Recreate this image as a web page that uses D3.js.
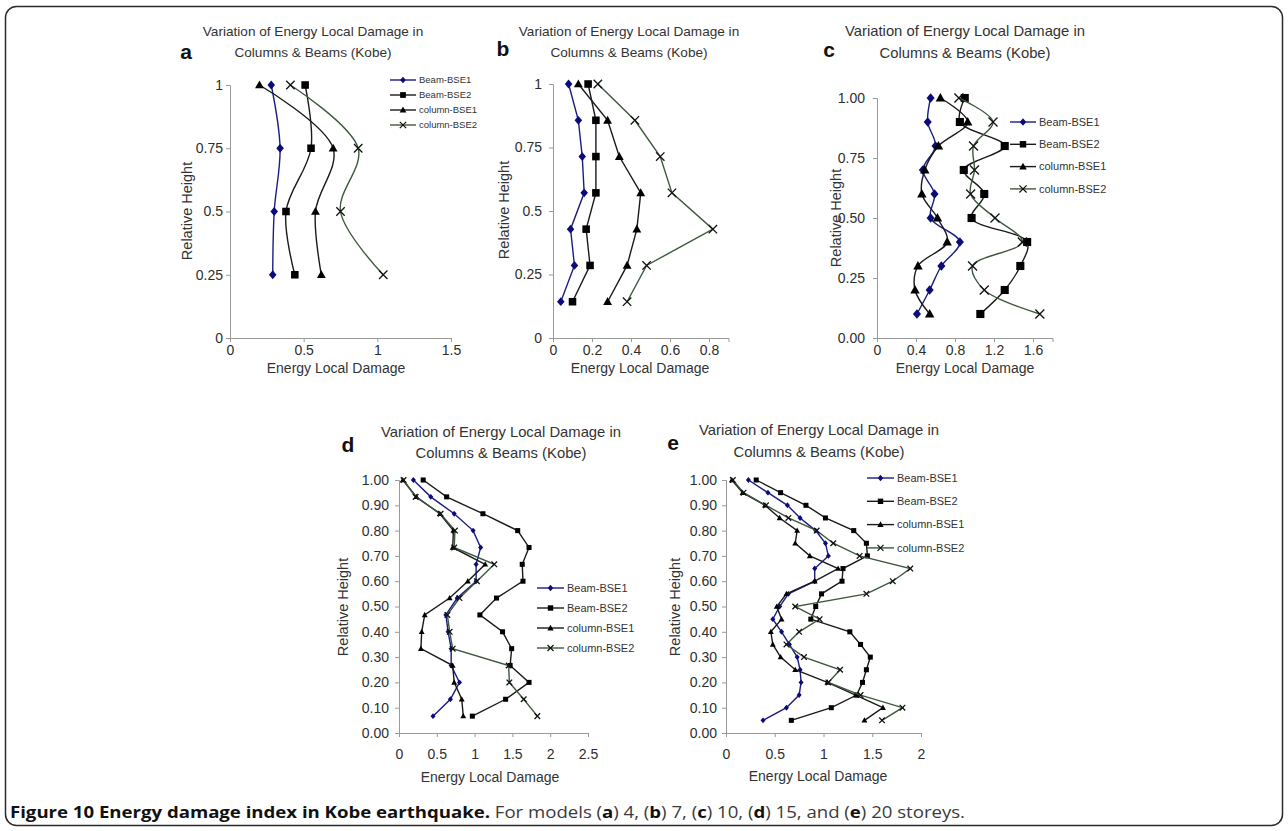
<!DOCTYPE html>
<html>
<head>
<meta charset="utf-8">
<script src="https://cdn.jsdelivr.net/npm/d3@7"></script>
<style>
  body { margin: 0; background: #fff; }
  svg { display: block; font-family: "Liberation Sans", Arial, sans-serif; }
</style>
</head>
<body>
<svg id="figure" width="1288" height="831"></svg>
<script>
// ---------------- data ----------------
// storey levels, top to bottom (relative height = storey / number of storeys)
const storeysA = [4, 3, 2, 1];
const storeysB = [7, 6, 5, 4, 3, 2, 1];
const storeysC = [10, 9, 8, 7, 6, 5, 4, 3, 2, 1];
const storeysD = [15, 14, 13, 12, 11, 10, 9, 8, 7, 6, 5, 4, 3, 2, 1];
const storeysE = [20, 19, 18, 17, 16, 15, 14, 13, 12, 11, 10, 9, 8, 7, 6, 5, 4, 3, 2, 1];

const seriesNames = ["Beam-BSE1", "Beam-BSE2", "column-BSE1", "column-BSE2"];

// (a) 4 storeys
const aBeamBSE1 = [0.28, 0.34, 0.30, 0.29];
const aBeamBSE2 = [0.51, 0.55, 0.38, 0.44];
const aColumnBSE1 = [0.20, 0.70, 0.58, 0.62];
const aColumnBSE2 = [0.41, 0.87, 0.75, 1.04];

// (b) 7 storeys
const bBeamBSE1 = [0.08, 0.13, 0.15, 0.16, 0.09, 0.11, 0.04];
const bBeamBSE2 = [0.18, 0.22, 0.22, 0.22, 0.17, 0.19, 0.10];
const bColumnBSE1 = [0.13, 0.28, 0.34, 0.45, 0.43, 0.38, 0.28];
const bColumnBSE2 = [0.23, 0.42, 0.55, 0.61, 0.82, 0.48, 0.38];

// (c) 10 storeys
const cBeamBSE1 = [0.55, 0.52, 0.60, 0.47, 0.59, 0.55, 0.85, 0.66, 0.54, 0.41];
const cBeamBSE2 = [0.90, 0.85, 1.31, 0.89, 1.10, 0.97, 1.54, 1.47, 1.31, 1.06];
const cColumnBSE1 = [0.65, 0.93, 0.63, 0.49, 0.46, 0.62, 0.72, 0.42, 0.39, 0.54];
const cColumnBSE2 = [0.84, 1.19, 0.99, 1.00, 0.96, 1.21, 1.49, 0.98, 1.10, 1.67];

// (d) 15 storeys
const dBeamBSE1 = [0.19, 0.42, 0.73, 0.98, 1.08, 1.02, 1.02, 0.77, 0.62, 0.65, 0.69, 0.69, 0.80, 0.68, 0.45];
const dBeamBSE2 = [0.32, 0.63, 1.11, 1.57, 1.72, 1.63, 1.64, 1.29, 1.07, 1.37, 1.49, 1.47, 1.72, 1.41, 0.97];
const dColumnBSE1 = [0.05, 0.23, 0.54, 0.72, 0.71, 1.14, 0.91, 0.67, 0.34, 0.30, 0.29, 0.71, 0.73, 0.83, 0.85];
const dColumnBSE2 = [0.06, 0.22, 0.55, 0.74, 0.73, 1.26, 1.03, 0.80, 0.64, 0.67, 0.71, 1.45, 1.46, 1.65, 1.83];

// (e) 20 storeys
const eBeamBSE1 = [0.23, 0.43, 0.63, 0.76, 0.92, 1.02, 1.05, 0.91, 0.91, 0.64, 0.55, 0.48, 0.57, 0.65, 0.73, 0.76, 0.77, 0.75, 0.62, 0.38];
const eBeamBSE2 = [0.31, 0.56, 0.82, 1.02, 1.31, 1.44, 1.45, 1.20, 1.19, 0.98, 0.92, 0.87, 1.27, 1.38, 1.48, 1.44, 1.40, 1.34, 1.08, 0.67];
const eColumnBSE1 = [0.06, 0.17, 0.40, 0.55, 0.73, 0.71, 0.86, 1.15, 0.91, 0.62, 0.52, 0.57, 0.46, 0.48, 0.56, 0.71, 1.04, 1.33, 1.61, 1.42];
const eColumnBSE2 = [0.07, 0.18, 0.41, 0.64, 0.93, 1.10, 1.37, 1.89, 1.71, 1.44, 0.71, 0.96, 0.75, 0.62, 0.80, 1.17, 1.05, 1.38, 1.81, 1.60];

// tick labels
const yTicksQuarter = [0, 0.25, 0.5, 0.75, 1];
const yTicksTenth = [0, 0.1, 0.2, 0.3, 0.4, 0.5, 0.6, 0.7, 0.8, 0.9, 1];
const xTicksA = [0, 0.5, 1, 1.5];
const xTicksB = [0, 0.2, 0.4, 0.6, 0.8];
const xTicksC = [0, 0.4, 0.8, 1.2, 1.6];
const xTicksD = [0, 0.5, 1, 1.5, 2, 2.5];
const xTicksE = [0, 0.5, 1, 1.5, 2];

// ---------------- drawing ----------------
const svg = d3.select("#figure");

// rounded frame around the figure
svg.append("rect")
    .attr("x", 5.5).attr("y", 6.5)
    .attr("width", 1277).attr("height", 819)
    .attr("rx", 11)
    .attr("fill", "none")
    .attr("stroke", "#2b2b2b")
    .attr("stroke-width", 1.5);

const styles = [
    { kind: "diamond", line: "#1c1c82", fill: "#0b0b7a", stroke: "none" },
    { kind: "square", line: "#1a1a1a", fill: "#000", stroke: "none" },
    { kind: "triangle", line: "#1a1a1a", fill: "#000", stroke: "none" },
    { kind: "cross", line: "#3d593d", fill: "none", stroke: "#111" }
];

function markerPath(kind, s) {
    if (kind === "diamond") return `M0,${-s * 1.05}L${s * 0.9},0L0,${s * 1.05}L${-s * 0.9},0Z`;
    if (kind === "square") return `M${-s * 0.9},${-s * 0.9}H${s * 0.9}V${s * 0.9}H${-s * 0.9}Z`;
    if (kind === "triangle") return `M0,${-s * 1.1}L${s * 1.05},${s * 0.8}L${-s * 1.05},${s * 0.8}Z`;
    return `M${-s},${-s}L${s},${s}M${-s},${s}L${s},${-s}`;
}

const panels = [
    {
        letter: "a", letterPos: [186, 52],
        storeys: storeysA, series: [aBeamBSE1, aBeamBSE2, aColumnBSE1, aColumnBSE2],
        box: { left: 230, right: 451, top: 85, bottom: 338 }, xMax: 1.5,
        xTicks: xTicksA, xFmt: d3.format(""), yTicks: yTicksQuarter, yFmt: d3.format(""),
        xPad: 3, yPad: 3, smooth: true, marker: 4.2,
        title: { x: 313, y1: 31, y2: 52, size: 13.6 },
        yLabel: [187, 211], xLabel: [336, 368],
        legend: { x: 390, y: 80, dy: 15, len: 26, size: 9.5, marker: 3.2 }
    },
    {
        letter: "b", letterPos: [503, 49],
        storeys: storeysB, series: [bBeamBSE1, bBeamBSE2, bColumnBSE1, bColumnBSE2],
        box: { left: 553, right: 728.5, top: 84, bottom: 338 }, xMax: 0.9,
        xTicks: xTicksB, xFmt: d3.format(""), yTicks: yTicksQuarter, yFmt: d3.format(""),
        xPad: 3, yPad: 7, smooth: false, marker: 4.2,
        title: { x: 629, y1: 31, y2: 52, size: 13.6 },
        yLabel: [504, 210], xLabel: [640, 368],
        legend: null
    },
    {
        letter: "c", letterPos: [829, 50],
        storeys: storeysC, series: [cBeamBSE1, cBeamBSE2, cColumnBSE1, cColumnBSE2],
        box: { left: 877, right: 1052.5, top: 98, bottom: 338 }, xMax: 1.8,
        xTicks: xTicksC, xFmt: d3.format(""), yTicks: yTicksQuarter, yFmt: d3.format(".2f"),
        xPad: 3, yPad: 8, smooth: true, marker: 4.5,
        title: { x: 965, y1: 31, y2: 53, size: 14.8 },
        yLabel: [836, 218], xLabel: [965, 368],
        legend: { x: 1010, y: 122, dy: 22.3, len: 26, size: 11, marker: 3.6 }
    },
    {
        letter: "d", letterPos: [348, 445],
        storeys: storeysD, series: [dBeamBSE1, dBeamBSE2, dColumnBSE1, dColumnBSE2],
        box: { left: 399, right: 588, top: 480, bottom: 733 }, xMax: 2.5,
        xTicks: xTicksD, xFmt: d3.format(""), yTicks: yTicksTenth, yFmt: d3.format(".2f"),
        xPad: 12, yPad: 6, smooth: false, marker: 2.8,
        title: { x: 501, y1: 432, y2: 453, size: 14.8 },
        yLabel: [343, 607], xLabel: [490, 777],
        legend: { x: 537, y: 588, dy: 20, len: 27, size: 11, marker: 3 }
    },
    {
        letter: "e", letterPos: [673, 443],
        storeys: storeysE, series: [eBeamBSE1, eBeamBSE2, eColumnBSE1, eColumnBSE2],
        box: { left: 726, right: 921, top: 480, bottom: 733 }, xMax: 2,
        xTicks: xTicksE, xFmt: d3.format(""), yTicks: yTicksTenth, yFmt: d3.format(".2f"),
        xPad: 12, yPad: 5, smooth: false, marker: 2.8,
        title: { x: 819, y1: 430, y2: 452, size: 14.8 },
        yLabel: [675, 607], xLabel: [818, 776],
        legend: { x: 867, y: 478, dy: 23.3, len: 27, size: 11, marker: 3 }
    }
];

function drawPanel(p) {
    const g = svg.append("g").attr("class", "panel-" + p.letter);
    const n = p.storeys[0];

    const x = d3.scaleLinear().domain([0, p.xMax]).range([p.box.left, p.box.right]);
    const y = d3.scaleLinear().domain([0, 1]).range([p.box.bottom, p.box.top]);

    // axes
    const xAxis = g.append("g")
        .attr("transform", `translate(0,${p.box.bottom})`)
        .call(d3.axisBottom(x).tickValues(p.xTicks).tickFormat(p.xFmt).tickSize(4).tickPadding(p.xPad));
    const yAxis = g.append("g")
        .attr("transform", `translate(${p.box.left},0)`)
        .call(d3.axisLeft(y).tickValues(p.yTicks).tickFormat(p.yFmt).tickSize(4).tickPadding(p.yPad));
    [xAxis, yAxis].forEach(ax => {
        ax.select(".domain").attr("stroke", "#9a9a9a");
        ax.selectAll(".tick line").attr("stroke", "#9a9a9a");
        ax.selectAll(".tick text")
            .attr("fill", "#2e2e2e")
            .style("font-size", "14px")
            .style("font-family", "'Liberation Sans', Arial, sans-serif");
    });

    // titles
    const t = g.append("text")
        .attr("text-anchor", "middle")
        .attr("fill", "#333")
        .style("font-size", p.title.size + "px");
    t.append("tspan").attr("x", p.title.x).attr("y", p.title.y1).attr("dy", "0.35em")
        .text("Variation of Energy Local Damage in");
    t.append("tspan").attr("x", p.title.x).attr("y", p.title.y2).attr("dy", "0.35em")
        .text("Columns & Beams (Kobe)");

    g.append("text")
        .attr("x", p.letterPos[0]).attr("y", p.letterPos[1]).attr("dy", "0.35em")
        .attr("text-anchor", "middle")
        .style("font-size", "21px").style("font-weight", "bold")
        .attr("fill", "#111")
        .text(p.letter);

    g.append("text")
        .attr("transform", `translate(${p.yLabel[0]},${p.yLabel[1]}) rotate(-90)`)
        .attr("dy", "0.35em")
        .attr("text-anchor", "middle")
        .attr("fill", "#333")
        .style("font-size", "14.5px")
        .text("Relative Height");

    g.append("text")
        .attr("x", p.xLabel[0]).attr("y", p.xLabel[1]).attr("dy", "0.35em")
        .attr("text-anchor", "middle")
        .attr("fill", "#333")
        .style("font-size", "14px")
        .text("Energy Local Damage");

    // series
    const line = d3.line()
        .x(d => x(d.value))
        .y(d => y(d.height))
        .curve(p.smooth ? d3.curveCatmullRom.alpha(0.5) : d3.curveLinear);

    p.series.forEach((values, i) => {
        const st = styles[i];
        const pts = values.map((v, j) => ({ value: v, height: p.storeys[j] / n }));

        g.append("path")
            .datum(pts)
            .attr("d", line)
            .attr("fill", "none")
            .attr("stroke", st.line)
            .attr("stroke-width", 1.4);

        g.selectAll(".mk-" + i)
            .data(pts)
            .enter().append("path")
            .attr("class", "mk-" + i)
            .attr("transform", d => `translate(${x(d.value)},${y(d.height)})`)
            .attr("d", markerPath(st.kind, p.marker))
            .attr("fill", st.fill)
            .attr("stroke", st.stroke)
            .attr("stroke-width", 1.3);
    });

    // legend
    if (p.legend) {
        const L = p.legend;
        seriesNames.forEach((name, i) => {
            const st = styles[i];
            const row = g.append("g").attr("transform", `translate(${L.x},${L.y + i * L.dy})`);
            row.append("line")
                .attr("x1", 0).attr("x2", L.len)
                .attr("stroke", st.line).attr("stroke-width", 1.4);
            row.append("path")
                .attr("transform", `translate(${L.len / 2},0)`)
                .attr("d", markerPath(st.kind, L.marker))
                .attr("fill", st.fill)
                .attr("stroke", st.stroke)
                .attr("stroke-width", 1.2);
            row.append("text")
                .attr("x", L.len + 3).attr("dy", "0.35em")
                .attr("fill", "#333")
                .style("font-size", L.size + "px")
                .text(name);
        });
    }
}

panels.forEach(drawPanel);

// caption
const caption = svg.append("text")
    .attr("x", 10).attr("y", 818)
    .attr("textLength", 955).attr("lengthAdjust", "spacingAndGlyphs")
    .style("font-family", "'Open Sans', sans-serif")
    .style("font-size", "16px")
    .attr("fill", "#3a3a3a");
const captionParts = [
    ["Figure 10 Energy damage index in Kobe earthquake.", true],
    [" For models (", false], ["a", true], [") 4, (", false], ["b", true], [") 7, (", false],
    ["c", true], [") 10, (", false], ["d", true], [") 15, and (", false], ["e", true], [") 20 storeys.", false]
];
captionParts.forEach(([txt, bold]) => {
    caption.append("tspan")
        .style("font-weight", bold ? "bold" : "normal")
        .attr("fill", bold ? "#111" : "#3a3a3a")
        .text(txt);
});
</script>
</body>
</html>
